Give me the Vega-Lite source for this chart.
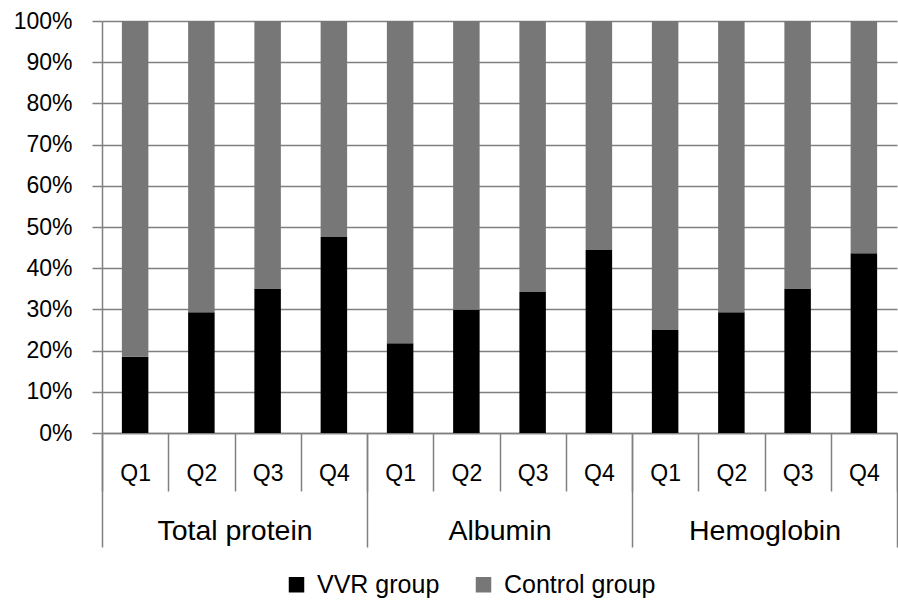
{
  "$schema": "https://vega.github.io/schema/vega-lite/v6.json",
  "width": 795,
  "height": 412,
  "autosize": "none",
  "padding": {"left": 102, "top": 21, "right": 1, "bottom": 168},
  "background": "white",
  "config": {"view": {"stroke": null}, "font": "Liberation Sans"},
  "data": {
    "values": [
      {"key": "Total protein|Q1", "group": "Total protein", "series": "VVR group", "value": 18.5},
      {"key": "Total protein|Q1", "group": "Total protein", "series": "Control group", "value": 81.5},
      {"key": "Total protein|Q2", "group": "Total protein", "series": "VVR group", "value": 29.3},
      {"key": "Total protein|Q2", "group": "Total protein", "series": "Control group", "value": 70.7},
      {"key": "Total protein|Q3", "group": "Total protein", "series": "VVR group", "value": 35.1},
      {"key": "Total protein|Q3", "group": "Total protein", "series": "Control group", "value": 64.9},
      {"key": "Total protein|Q4", "group": "Total protein", "series": "VVR group", "value": 47.6},
      {"key": "Total protein|Q4", "group": "Total protein", "series": "Control group", "value": 52.4},
      {"key": "Albumin|Q1", "group": "Albumin", "series": "VVR group", "value": 21.8},
      {"key": "Albumin|Q1", "group": "Albumin", "series": "Control group", "value": 78.2},
      {"key": "Albumin|Q2", "group": "Albumin", "series": "VVR group", "value": 29.9},
      {"key": "Albumin|Q2", "group": "Albumin", "series": "Control group", "value": 70.1},
      {"key": "Albumin|Q3", "group": "Albumin", "series": "VVR group", "value": 34.2},
      {"key": "Albumin|Q3", "group": "Albumin", "series": "Control group", "value": 65.8},
      {"key": "Albumin|Q4", "group": "Albumin", "series": "VVR group", "value": 44.4},
      {"key": "Albumin|Q4", "group": "Albumin", "series": "Control group", "value": 55.6},
      {"key": "Hemoglobin|Q1", "group": "Hemoglobin", "series": "VVR group", "value": 25.0},
      {"key": "Hemoglobin|Q1", "group": "Hemoglobin", "series": "Control group", "value": 75.0},
      {"key": "Hemoglobin|Q2", "group": "Hemoglobin", "series": "VVR group", "value": 29.3},
      {"key": "Hemoglobin|Q2", "group": "Hemoglobin", "series": "Control group", "value": 70.7},
      {"key": "Hemoglobin|Q3", "group": "Hemoglobin", "series": "VVR group", "value": 35.1},
      {"key": "Hemoglobin|Q3", "group": "Hemoglobin", "series": "Control group", "value": 64.9},
      {"key": "Hemoglobin|Q4", "group": "Hemoglobin", "series": "VVR group", "value": 43.6},
      {"key": "Hemoglobin|Q4", "group": "Hemoglobin", "series": "Control group", "value": 56.4}
    ]
  },
  "layer": [
    {
      "mark": {"type": "bar", "width": {"band": 0.4}},
      "encoding": {
        "x": {
          "field": "key", "type": "nominal", "sort": null,
          "scale": {"paddingInner": 0, "paddingOuter": 0},
          "axis": {
            "orient": "bottom", "title": null, "grid": false,
            "labelExpr": "split(datum.value, '|')[1]", "labelAngle": 0,
            "tickBand": "extent", "tickSize": 58, "labelPadding": -29,
            "labelFontSize": 23, "labelColor": "black",
            "domainColor": "#808080", "domainWidth": 1.5,
            "tickColor": "#808080", "tickWidth": 1.5
          }
        },
        "y": {
          "field": "value", "type": "quantitative", "stack": "normalize",
          "scale": {"domain": [0, 1]},
          "axis": {
            "title": null, "format": ".0%",
            "values": [0, 0.1, 0.2, 0.3, 0.4, 0.5, 0.6, 0.7, 0.8, 0.9, 1],
            "grid": true, "gridColor": "#808080", "gridWidth": 1.5,
            "domainColor": "#808080", "domainWidth": 1.5,
            "tickColor": "#808080", "tickWidth": 1.5, "tickSize": 10,
            "labelPadding": 20, "labelFontSize": 23, "labelColor": "black"
          }
        },
        "color": {
          "field": "series", "type": "nominal",
          "scale": {"domain": ["VVR group", "Control group"], "range": ["#000000", "#777777"]},
          "legend": {
            "title": null, "orient": "none", "legendX": 182, "legendY": 551,
            "direction": "horizontal", "symbolType": "square", "symbolSize": 240,
            "symbolStrokeWidth": 0, "labelFontSize": 25, "labelColor": "black",
            "labelOffset": 8, "columnPadding": 31
          }
        },
        "order": {"field": "series", "sort": "descending"}
      }
    },
    {
      "mark": {"type": "point", "opacity": 0},
      "encoding": {
        "x": {
          "field": "group", "type": "nominal",
          "sort": ["Total protein", "Albumin", "Hemoglobin"],
          "scale": {"paddingInner": 0, "paddingOuter": 0},
          "axis": {
            "orient": "bottom", "title": null, "grid": false, "domain": false,
            "labelAngle": 0, "tickBand": "extent", "tickSize": 114,
            "labelPadding": -31, "labelFontSize": 28.5, "labelColor": "black",
            "tickColor": "#808080", "tickWidth": 1.5
          }
        }
      }
    }
  ],
  "resolve": {"scale": {"x": "independent"}, "axis": {"x": "independent"}}
}
